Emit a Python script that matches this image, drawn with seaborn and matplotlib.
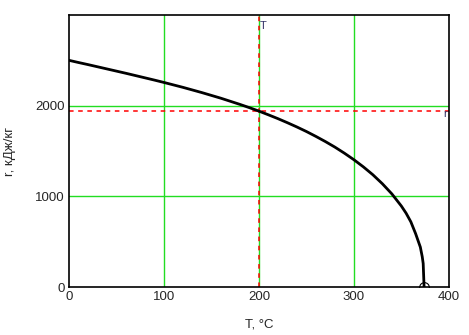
import matplotlib
matplotlib.use("Agg")
import matplotlib.pyplot as plt
import seaborn as sns
import pandas as pd

# ── Data: latent heat of vaporization of water vs temperature ──────────────
temp_c = [0, 10, 20, 30, 40, 50, 60, 70, 80, 90, 100, 110, 120, 130, 140,
          150, 160, 170, 180, 190, 200, 210, 220, 230, 240, 250, 260, 270,
          280, 290, 300, 310, 320, 330, 340, 350, 355, 360, 365, 370, 372,
          373, 373.95]
r_kj = [2501, 2477, 2454, 2430, 2406, 2382, 2358, 2333, 2308, 2283, 2257,
        2230, 2203, 2174, 2145, 2114, 2083, 2049, 2015, 1979, 1941, 1900,
        1858, 1813, 1766, 1716, 1662, 1605, 1544, 1477, 1405, 1326, 1239,
        1140, 1028, 894, 815, 720, 590, 441, 335, 260, 0]

marker_t = 200
marker_r = 1941
x_ticks = [0, 100, 200, 300, 400]
y_ticks = [0, 1000, 2000]

GRID = "#22dd22"

sns.set_style("white")
plt.rcParams["font.family"] = ["Liberation Sans", "DejaVu Sans"]

df = pd.DataFrame({"T": temp_c, "r": r_kj})

fig = plt.figure(figsize=(4.69, 3.35), dpi=100)
ax = fig.add_axes([0.147, 0.143, 0.810, 0.812])

for xv in x_ticks[1:-1]:
    ax.axvline(xv, color=GRID, lw=1, zorder=1)
for yv in y_ticks[1:]:
    ax.axhline(yv, color=GRID, lw=1, zorder=1)

# markers (dashed red)
ax.axvline(marker_t, color="red", lw=1.1, ls=(0, (3, 3)), zorder=2)
ax.axhline(marker_r, color="red", lw=1.1, ls=(0, (3, 3)), zorder=2)

sns.lineplot(data=df, x="T", y="r", ax=ax, color="black", lw=2,
             sort=False, zorder=3)
ax.plot([temp_c[-1]], [r_kj[-1]], marker="o", ms=7, mfc="none",
        mec="black", mew=0.8, clip_on=True, zorder=4)

ax.set_xlim(0, 400)
ax.set_ylim(0, 3000)
ax.set_xticks(x_ticks)
ax.set_yticks(y_ticks)
ax.tick_params(length=0, labelsize=9.5, pad=3)
for sp in ax.spines.values():
    sp.set_color("black")
    sp.set_linewidth(1.2)

ax.set_xlabel("T, °C", fontsize=9.5)
ax.set_ylabel("r, кДж/кг", fontsize=9.5)
ax.xaxis.set_label_coords(0.5, -0.115)
ax.yaxis.set_label_coords(-0.14, 0.5)

ax.text(marker_t + 1, 2880, "T", fontsize=8, ha="left", va="center",
        color="#333366")
ax.text(396, marker_r - 30, "r", fontsize=8, ha="center", va="center",
        color="#333366")

fig.savefig("out.png", dpi=100, facecolor="white")
